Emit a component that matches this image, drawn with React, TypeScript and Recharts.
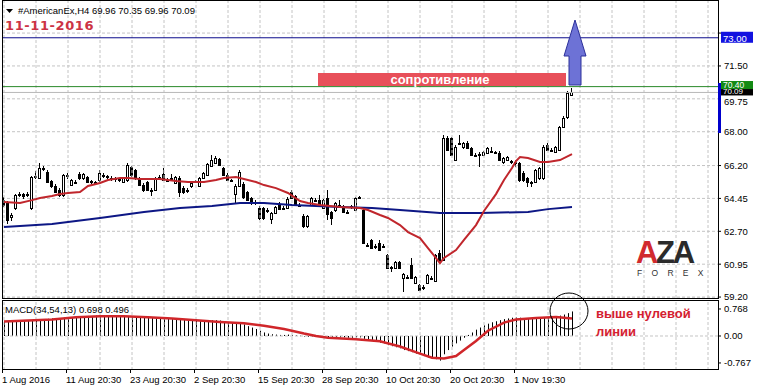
import React from "react";
import {
  ComposedChart,
  Bar,
  Line,
  XAxis,
  YAxis,
  CartesianGrid,
  ReferenceLine,
} from "recharts";

const FONT = "'Liberation Sans', Arial, sans-serif";

// time axis
const dateTicks = [0, 16, 32, 48, 64, 80, 96, 112, 128];
const dateLabels = [
  "1 Aug 2016",
  "11 Aug 20:30",
  "23 Aug 20:30",
  "2 Sep 20:30",
  "15 Sep 20:30",
  "28 Sep 20:30",
  "10 Oct 20:30",
  "20 Oct 20:30",
  "1 Nov 19:30",
];

const priceTicks = [59.2, 60.95, 62.7, 64.45, 66.2, 68.0, 69.75, 71.5, 73.25];
const macdTicks = [-0.767, 0, 0.768];

// H4 candles: open, high, low, close
const candles: [number, number, number, number][] = [
  [64.36, 64.5, 64.0, 64.1],
  [64.21, 64.3, 63.09, 63.3],
  [63.45, 63.67, 63.25, 63.55],
  [63.94, 64.7, 63.85, 64.63],
  [64.63, 64.8, 64.5, 64.7],
  [64.68, 64.75, 64.4, 64.6],
  [64.62, 64.8, 64.55, 64.7],
  [63.94, 65.65, 63.85, 65.59],
  [65.65, 65.9, 65.5, 65.58],
  [65.54, 66.34, 65.5, 66.07],
  [66.05, 66.2, 65.9, 66.0],
  [65.86, 65.95, 65.25, 65.32],
  [65.37, 65.45, 65.0, 65.11],
  [65.11, 65.2, 64.75, 64.79],
  [64.9, 65.0, 64.55, 64.63],
  [64.63, 65.75, 64.55, 65.7],
  [65.64, 65.8, 65.5, 65.68],
  [65.16, 65.5, 65.1, 65.43],
  [65.35, 65.45, 65.2, 65.32],
  [65.75, 65.86, 65.45, 65.54],
  [65.54, 65.8, 65.45, 65.75],
  [65.59, 65.65, 65.25, 65.32],
  [65.32, 65.45, 65.2, 65.36],
  [65.3, 65.4, 65.15, 65.25],
  [65.43, 65.96, 65.35, 65.8],
  [65.72, 65.8, 65.55, 65.68],
  [65.62, 65.7, 65.5, 65.58],
  [65.55, 65.62, 65.4, 65.52],
  [65.52, 65.6, 65.35, 65.5],
  [65.46, 65.55, 65.3, 65.42],
  [65.32, 65.6, 65.25, 65.54],
  [65.43, 66.34, 65.35, 66.23],
  [66.12, 66.2, 65.6, 65.7],
  [65.96, 66.0, 65.45, 65.54],
  [65.48, 65.6, 65.1, 65.16],
  [65.16, 65.25, 64.8, 64.9],
  [65.32, 65.4, 64.85, 64.9],
  [64.88, 65.0, 64.6, 64.92],
  [64.9, 65.6, 64.85, 65.54],
  [65.56, 65.7, 65.45, 65.6],
  [65.75, 66.07, 65.4, 65.43],
  [65.43, 65.55, 65.3, 65.45],
  [65.5, 65.75, 65.4, 65.55],
  [65.27, 65.65, 65.2, 65.59],
  [65.54, 65.65, 64.5, 64.79],
  [65.0, 65.1, 64.7, 64.79],
  [64.88, 65.0, 64.75, 64.92],
  [65.11, 65.35, 65.0, 65.27],
  [65.35, 65.45, 65.25, 65.38],
  [65.11, 65.6, 65.05, 65.54],
  [65.54, 65.85, 65.5, 65.8],
  [65.7, 66.35, 65.65, 66.28],
  [66.18, 66.76, 66.1, 66.49],
  [66.34, 66.7, 66.3, 66.6],
  [66.55, 66.62, 66.15, 66.23],
  [66.07, 66.1, 65.65, 65.7],
  [65.7, 65.8, 65.4, 65.43],
  [65.43, 65.5, 65.3, 65.4],
  [64.68, 65.2, 64.21, 65.11],
  [65.11, 65.96, 65.05, 65.86],
  [65.22, 65.3, 64.4, 64.52],
  [64.79, 64.85, 64.3, 64.36],
  [64.47, 64.55, 64.1, 64.21],
  [64.24, 64.35, 64.1, 64.26],
  [63.94, 64.05, 63.3, 63.41],
  [63.94, 64.0, 63.3, 63.41],
  [63.8, 63.95, 63.7, 63.85],
  [63.35, 63.75, 63.09, 63.67],
  [63.67, 64.05, 63.6, 63.99],
  [64.15, 64.25, 63.85, 63.89],
  [63.92, 64.05, 63.85, 63.96],
  [63.94, 64.5, 63.9, 64.42],
  [64.79, 64.9, 64.4, 64.47],
  [64.58, 64.65, 64.05, 64.1],
  [64.12, 64.2, 64.0, 64.08],
  [63.51, 63.6, 62.9, 62.98],
  [62.98, 63.55, 62.9, 63.51],
  [64.1, 64.55, 64.05, 64.47],
  [64.38, 64.45, 64.25, 64.34],
  [64.36, 64.63, 64.05, 64.1],
  [63.94, 64.4, 63.9, 64.36],
  [64.47, 64.9, 63.3, 63.62],
  [63.73, 63.8, 63.03, 63.41],
  [63.83, 64.25, 63.75, 64.21],
  [64.12, 64.36, 64.0, 64.08],
  [64.05, 64.1, 63.7, 63.73],
  [63.75, 63.85, 63.6, 63.7],
  [63.98, 64.1, 63.9, 64.03],
  [63.83, 64.5, 63.8, 64.47],
  [64.52, 64.6, 64.45, 64.54],
  [63.83, 63.9, 62.0, 62.08],
  [61.99, 62.1, 61.85, 61.95],
  [62.24, 62.3, 61.75, 61.81],
  [61.92, 62.0, 61.75, 61.88],
  [62.08, 62.24, 61.65, 61.7],
  [61.9, 62.0, 61.8, 61.92],
  [61.44, 61.5, 60.7, 60.74],
  [60.74, 60.85, 60.55, 60.78],
  [60.74, 61.1, 60.7, 61.06],
  [61.06, 61.12, 60.7, 60.74],
  [60.21, 60.5, 59.47, 60.42],
  [60.28, 60.38, 60.15, 60.24],
  [60.9, 61.28, 60.15, 60.21],
  [59.95, 60.3, 59.9, 60.26],
  [59.84, 59.9, 59.5, 59.57],
  [59.75, 59.85, 59.6, 59.7],
  [59.95, 60.42, 59.9, 60.37],
  [60.22, 60.3, 60.1, 60.2],
  [60.05, 61.5, 60.0, 61.44],
  [61.55, 61.7, 61.1, 61.17],
  [61.17, 67.83, 61.1, 67.67],
  [67.67, 67.75, 66.95, 67.03],
  [67.65, 67.7, 66.7, 66.76],
  [66.49, 67.3, 66.45, 67.19],
  [67.38, 67.83, 67.3, 67.42],
  [67.19, 67.45, 67.1, 67.4],
  [67.4, 67.5, 67.1, 67.13],
  [67.13, 67.2, 66.7, 66.76],
  [66.78, 66.85, 66.65, 66.74],
  [66.8, 66.9, 66.12, 66.83],
  [66.76, 67.0, 66.7, 66.92],
  [66.87, 67.2, 66.8, 67.13],
  [66.95, 67.19, 66.85, 66.98],
  [66.92, 67.0, 66.8, 66.9],
  [66.87, 66.95, 66.45, 66.49],
  [66.39, 66.65, 66.3, 66.6],
  [66.49, 66.7, 66.45, 66.65],
  [66.42, 66.5, 66.3, 66.38],
  [66.4, 66.5, 66.12, 66.37],
  [66.34, 66.4, 65.35, 65.43],
  [65.8, 65.9, 65.35, 65.43],
  [65.54, 65.6, 65.05, 65.32],
  [65.3, 65.4, 65.05, 65.33],
  [65.32, 66.0, 65.25, 65.96],
  [65.54, 66.1, 65.45, 66.07],
  [65.54, 67.29, 65.45, 67.19],
  [67.29, 67.4, 66.95, 67.03],
  [67.0, 67.15, 66.9, 67.05],
  [66.92, 67.25, 66.85, 67.19],
  [67.03, 68.3, 66.95, 68.25],
  [68.25, 68.85, 68.2, 68.73],
  [68.78, 70.15, 68.7, 70.06],
  [69.96, 70.35, 69.96, 70.09],
];

// moving averages, read at bar index
const redMa: [number, number][] = [
  [0, 64.26], [4, 64.21], [7, 64.36], [9, 64.47], [12, 64.58], [14, 64.68],
  [16, 64.74], [19, 64.79], [21, 65.11], [24, 65.27], [26, 65.43], [29, 65.54],
  [31, 65.54], [34, 65.48], [39, 65.48], [43, 65.38], [46, 65.32], [50, 65.32],
  [53, 65.43], [55, 65.54], [58, 65.59], [63, 65.32], [65, 65.16], [68, 65.0],
  [71, 64.74], [74, 64.31], [76, 64.21], [79, 64.1], [84, 63.99], [89, 63.94],
  [91, 63.83], [94, 63.57], [96, 63.41], [99, 63.03], [101, 62.66], [104, 62.34],
  [106, 61.81], [109, 61.01], [110, 61.28], [113, 61.7], [115, 62.24], [118, 63.03],
  [120, 63.78], [123, 64.68], [125, 65.43], [127, 66.07], [128, 66.44], [129, 66.65],
  [131, 66.6], [134, 66.39], [136, 66.39], [139, 66.49], [142, 66.81],
];

const blueMa: [number, number][] = [
  [0, 62.93], [12, 63.09], [24, 63.41], [35, 63.73], [44, 63.94], [52, 64.05],
  [59, 64.21], [65, 64.21], [72, 64.1], [84, 63.99], [92, 63.94], [99, 63.83],
  [109, 63.67], [119, 63.67], [131, 63.73], [136, 63.88], [142, 63.99],
];

// MACD(34,54,13)
const macdMain: number[] = [
  0.43, 0.43, 0.42, 0.41, 0.42, 0.43, 0.44, 0.45, 0.46, 0.47, 0.48, 0.49,
  0.5, 0.51, 0.51, 0.52, 0.53, 0.54, 0.55, 0.56, 0.56, 0.57, 0.57, 0.58,
  0.59, 0.59, 0.59, 0.58, 0.58, 0.57, 0.57, 0.57, 0.56, 0.55, 0.54, 0.53,
  0.52, 0.51, 0.51, 0.5, 0.49, 0.49, 0.48, 0.47, 0.46, 0.46, 0.45, 0.44,
  0.44, 0.43, 0.43, 0.44, 0.45, 0.45, 0.44, 0.42, 0.4, 0.39, 0.38, 0.37,
  0.33, 0.28, 0.24, 0.2, 0.15, 0.1, 0.07, 0.05, 0.04, 0.03, 0.03, 0.04,
  0.03, 0.02, 0.01, -0.01, -0.02, -0.01, 0.0, -0.01, -0.02, -0.03, -0.04, -0.04,
  -0.04, -0.04, -0.05, -0.05, -0.04, -0.04, -0.08, -0.11, -0.14, -0.16, -0.19, -0.21,
  -0.26, -0.29, -0.32, -0.35, -0.4, -0.43, -0.46, -0.5, -0.54, -0.57, -0.61, -0.64,
  -0.66, -0.7, -0.52, -0.4, -0.3, -0.21, -0.13, -0.05, 0.03, 0.1, 0.18, 0.24,
  0.3, 0.35, 0.39, 0.42, 0.45, 0.48, 0.5, 0.52, 0.53, 0.52, 0.51, 0.5,
  0.49, 0.49, 0.5, 0.52, 0.54, 0.55, 0.56, 0.58, 0.61, 0.65, 0.698,
];

const macdSignal: [number, number][] = [
  [0, 0.41], [12, 0.47], [18, 0.53], [24, 0.56], [30, 0.56], [36, 0.53],
  [42, 0.5], [48, 0.45], [54, 0.4], [60, 0.36], [65, 0.29], [70, 0.2],
  [75, 0.07], [78, 0.0], [81, -0.05], [88, -0.09], [94, -0.15], [99, -0.3],
  [104, -0.5], [107, -0.62], [110, -0.64], [113, -0.57], [115, -0.4], [118, -0.14],
  [121, 0.15], [125, 0.38], [128, 0.47], [133, 0.51], [138, 0.54], [142, 0.496],
];

const TARGET = 73.0;
const RESIST = 70.4;
const LAST = 70.09;

const SLOTS = 179; // bars + empty chart shift on the right
const gridBars = Array.from({ length: 23 }, (_, k) => k * 8);

const redMap = new Map(redMa);
const blueMap = new Map(blueMa);
const sigMap = new Map(macdSignal);

const rows = Array.from({ length: SLOTS }, (_, i) => {
  const k = candles[i];
  return {
    i,
    range: k ? [k[2], k[1]] : null,
    o: k ? k[0] : null,
    h: k ? k[1] : null,
    l: k ? k[2] : null,
    c: k ? k[3] : null,
    red: redMap.get(i) ?? null,
    blue: blueMap.get(i) ?? null,
    hist: i < macdMain.length ? macdMain[i] : null,
    sig: sigMap.get(i) ?? null,
  };
});

const Candle = (props: any) => {
  const { x, y, width, height, payload } = props;
  if (!payload || payload.o == null) return null;
  const { o, h, l, c } = payload;
  const top0 = Math.min(y, y + height);
  const hh = Math.abs(height);
  const px = Math.floor(x + width / 2);
  const k = hh / (h - l || 1);
  const yOf = (v: number) => top0 + (h - v) * k;
  const bt = Math.round(yOf(Math.max(o, c)));
  const bb = Math.round(yOf(Math.min(o, c)));
  const up = c >= o;
  return (
    <g shapeRendering="crispEdges">
      <line x1={px + 0.5} x2={px + 0.5} y1={top0} y2={top0 + hh} stroke="#000" />
      <rect
        x={px - 0.5}
        y={bt + 0.5}
        width={2}
        height={Math.max(bb - bt, 1)}
        fill={up ? "#fff" : "#000"}
        stroke="#000"
      />
    </g>
  );
};

const HistBar = (props: any) => {
  const { x, y, width, height } = props;
  if (height == null) return null;
  const px = Math.floor(x + width / 2);
  const t = Math.min(y, y + height);
  return <rect x={px} y={t} width={1} height={Math.max(Math.abs(height), 0.5)} fill="#000" />;
};

// price tag on the right scale; up/down = box extent around the line
const PriceTag = ({ viewBox, bg, text, up = 6, down = 5, fs = 9.5 }: any) => {
  if (!viewBox) return null;
  const x = viewBox.x + viewBox.width + 3;
  const y = viewBox.y;
  return (
    <g>
      <rect x={x} y={y - up} width={32} height={up + down} fill={bg} />
      <text x={x + 2} y={y + down - 1} fill="#fff" fontSize={fs} fontFamily={FONT}>
        {text}
      </text>
    </g>
  );
};

// right price scale label; 69.75 sits partly under the price tags
const PriceTick = ({ x, y, payload }: any) => {
  const v = payload.value;
  if (v === 73.25) return null;
  return (
    <text x={x} y={y + (v === 69.75 ? 2.5 : 0)} dy="0.355em" fontSize={9.5} fontFamily={FONT} fill="#000">
      {v.toFixed(2)}
    </text>
  );
};

const DateTick = ({ x, y, payload }: any) => {
  const idx = dateTicks.indexOf(payload.value);
  return (
    <g>
      <line x1={x - 1.5} x2={x - 1.5} y1={y} y2={y + 3} stroke="#000" />
      <text x={x - 2} y={y + 13} fontSize={9.5} fontFamily={FONT} fill="#000">
        {dateLabels[idx]}
      </text>
    </g>
  );
};

const tickStyle = { fontSize: 9.5, fill: "#000", fontFamily: FONT };

export default function App() {
  return (
    <div
      style={{
        position: "absolute",
        left: 0,
        top: 0,
        width: 760,
        height: 390,
        background: "#fff",
        overflow: "hidden",
      }}
    >
      <div style={{ position: "absolute", left: 0, top: 0 }}>
        <ComposedChart
          width={760}
          height={304}
          data={rows}
          margin={{ top: 0, right: 0, left: 2, bottom: 6 }}
          barCategoryGap={0}
          barGap={0}
        >
          <CartesianGrid vertical={false} stroke="#c4c4c4" strokeDasharray="3 2" />
          {gridBars.map((b) => (
            <ReferenceLine key={b} x={b} stroke="#c4c4c4" strokeDasharray="3 2" />
          ))}
          <XAxis dataKey="i" type="category" hide />
          <YAxis
            orientation="right"
            width={42}
            domain={[59.15, 75.01]}
            allowDataOverflow
            ticks={priceTicks}
            interval={0}
            tick={<PriceTick />}
            tickSize={3}
            tickMargin={3}
            axisLine={false}
            tickLine={{ stroke: "#000" }}
          />
          <ReferenceLine y={LAST} stroke="#b8b8b8" />
          <ReferenceLine
            y={TARGET}
            stroke="#0c0c8c"
            label={(p: any) => <PriceTag {...p} bg="#1212e0" text={TARGET.toFixed(2)} />}
          />
          <ReferenceLine
            y={RESIST}
            stroke="#2a8a2a"
            label={(p: any) => (
              <PriceTag {...p} bg="#138a13" text={RESIST.toFixed(2)} up={5.6} down={2.4} fs={8.5} />
            )}
          />
          <Bar dataKey="range" shape={<Candle />} barSize={4} isAnimationActive={false} />
          <Line
            dataKey="blue"
            stroke="#0d1785"
            strokeWidth={2}
            dot={false}
            connectNulls
            isAnimationActive={false}
          />
          <Line
            dataKey="red"
            stroke="#c0262c"
            strokeWidth={2}
            dot={false}
            connectNulls
            isAnimationActive={false}
          />
          <ReferenceLine
            y={LAST}
            stroke="none"
            label={(p: any) => (
              <PriceTag {...p} bg="#000" text={LAST.toFixed(2)} up={3.4} down={3} fs={8} />
            )}
          />
        </ComposedChart>
      </div>

      <div style={{ position: "absolute", left: 0, top: 300 }}>
        <ComposedChart
          width={760}
          height={90}
          data={rows}
          margin={{ top: 1, right: 0, left: 2, bottom: 0 }}
          barCategoryGap={0}
          barGap={0}
        >
          {gridBars.map((b) => (
            <ReferenceLine key={b} x={b} stroke="#c4c4c4" strokeDasharray="3 2" />
          ))}
          <ReferenceLine y={0} stroke="#c4c4c4" strokeDasharray="3 2" />
          <XAxis
            dataKey="i"
            type="category"
            ticks={dateTicks}
            interval={0}
            tick={<DateTick />}
            tickLine={false}
            axisLine={false}
            tickSize={0}
            tickMargin={0}
            height={20}
          />
          <YAxis
            orientation="right"
            width={42}
            domain={[-0.967, 0.995]}
            allowDataOverflow
            ticks={macdTicks}
            interval={0}
            tickFormatter={(v: number) => (v === 0 ? "0.00" : v.toFixed(3))}
            tick={tickStyle}
            tickSize={3}
            tickMargin={3}
            axisLine={false}
            tickLine={{ stroke: "#000" }}
          />
          <Bar dataKey="hist" shape={<HistBar />} barSize={1} isAnimationActive={false} />
          <Line
            dataKey="sig"
            stroke="#d0262a"
            strokeWidth={2.5}
            dot={false}
            connectNulls
            isAnimationActive={false}
          />
        </ComposedChart>
      </div>

      <svg
        width={760}
        height={390}
        style={{ position: "absolute", left: 0, top: 0, pointerEvents: "none" }}
        fontFamily={FONT}
      >
        {/* frames */}
        <rect x={2.5} y={0.5} width={716} height={298} fill="none" stroke="#000" />
        <rect x={2.5} y={300.5} width={716} height={69} fill="none" stroke="#000" />
        <rect x={718} y={83} width={3} height={50} fill="#0000cc" />

        {/* header */}
        <polygon points="6,9 13,9 9.5,13" fill="#000" />
        <text x={18} y={14} fontSize={9.5} fill="#000">
          #AmericanEx,H4  69.96 70.35 69.96 70.09
        </text>
        <text
          x={5}
          y={30}
          fontSize={13}
          fontWeight="bold"
          fill="#cc3344"
          fontFamily="'DejaVu Sans', sans-serif"
          letterSpacing={0.6}
        >
          11-11-2016
        </text>

        {/* resistance band + arrow */}
        <rect x={318} y={73} width={248} height={13} fill="#e8505a" />
        <text x={440} y={84} fontSize={13} fontWeight="bold" fill="#fff" textAnchor="middle">
          сопротивление
        </text>
        <polygon
          points="569,85 569,56 564,56 575,20 586,56 581,56 581,85"
          fill="#6d72d6"
          stroke="#2c309a"
        />

        {/* logo */}
        <text x={636} y={262.5} fontSize={31} fontWeight="bold" letterSpacing={-2.3}>
          <tspan fill="#d12a2e">A</tspan>
          <tspan fill="#2b2b2b">ZA</tspan>
        </text>
        <text x={637} y={276} fontSize={8.5} letterSpacing={9.3} fill="#333">
          FOREX
        </text>

        {/* MACD panel notes */}
        <text x={5} y={313} fontSize={9.5} fill="#000">
          MACD(34,54,13) 0.698 0.496
        </text>
        <ellipse cx={569} cy={311} rx={19} ry={18} fill="none" stroke="#000" />
        <text x={596} y={318} fontSize={13} fontWeight="bold" fill="#d42030">
          выше нулевой
        </text>
        <text x={596} y={336} fontSize={13} fontWeight="bold" fill="#d42030">
          линии
        </text>
      </svg>
    </div>
  );
}
